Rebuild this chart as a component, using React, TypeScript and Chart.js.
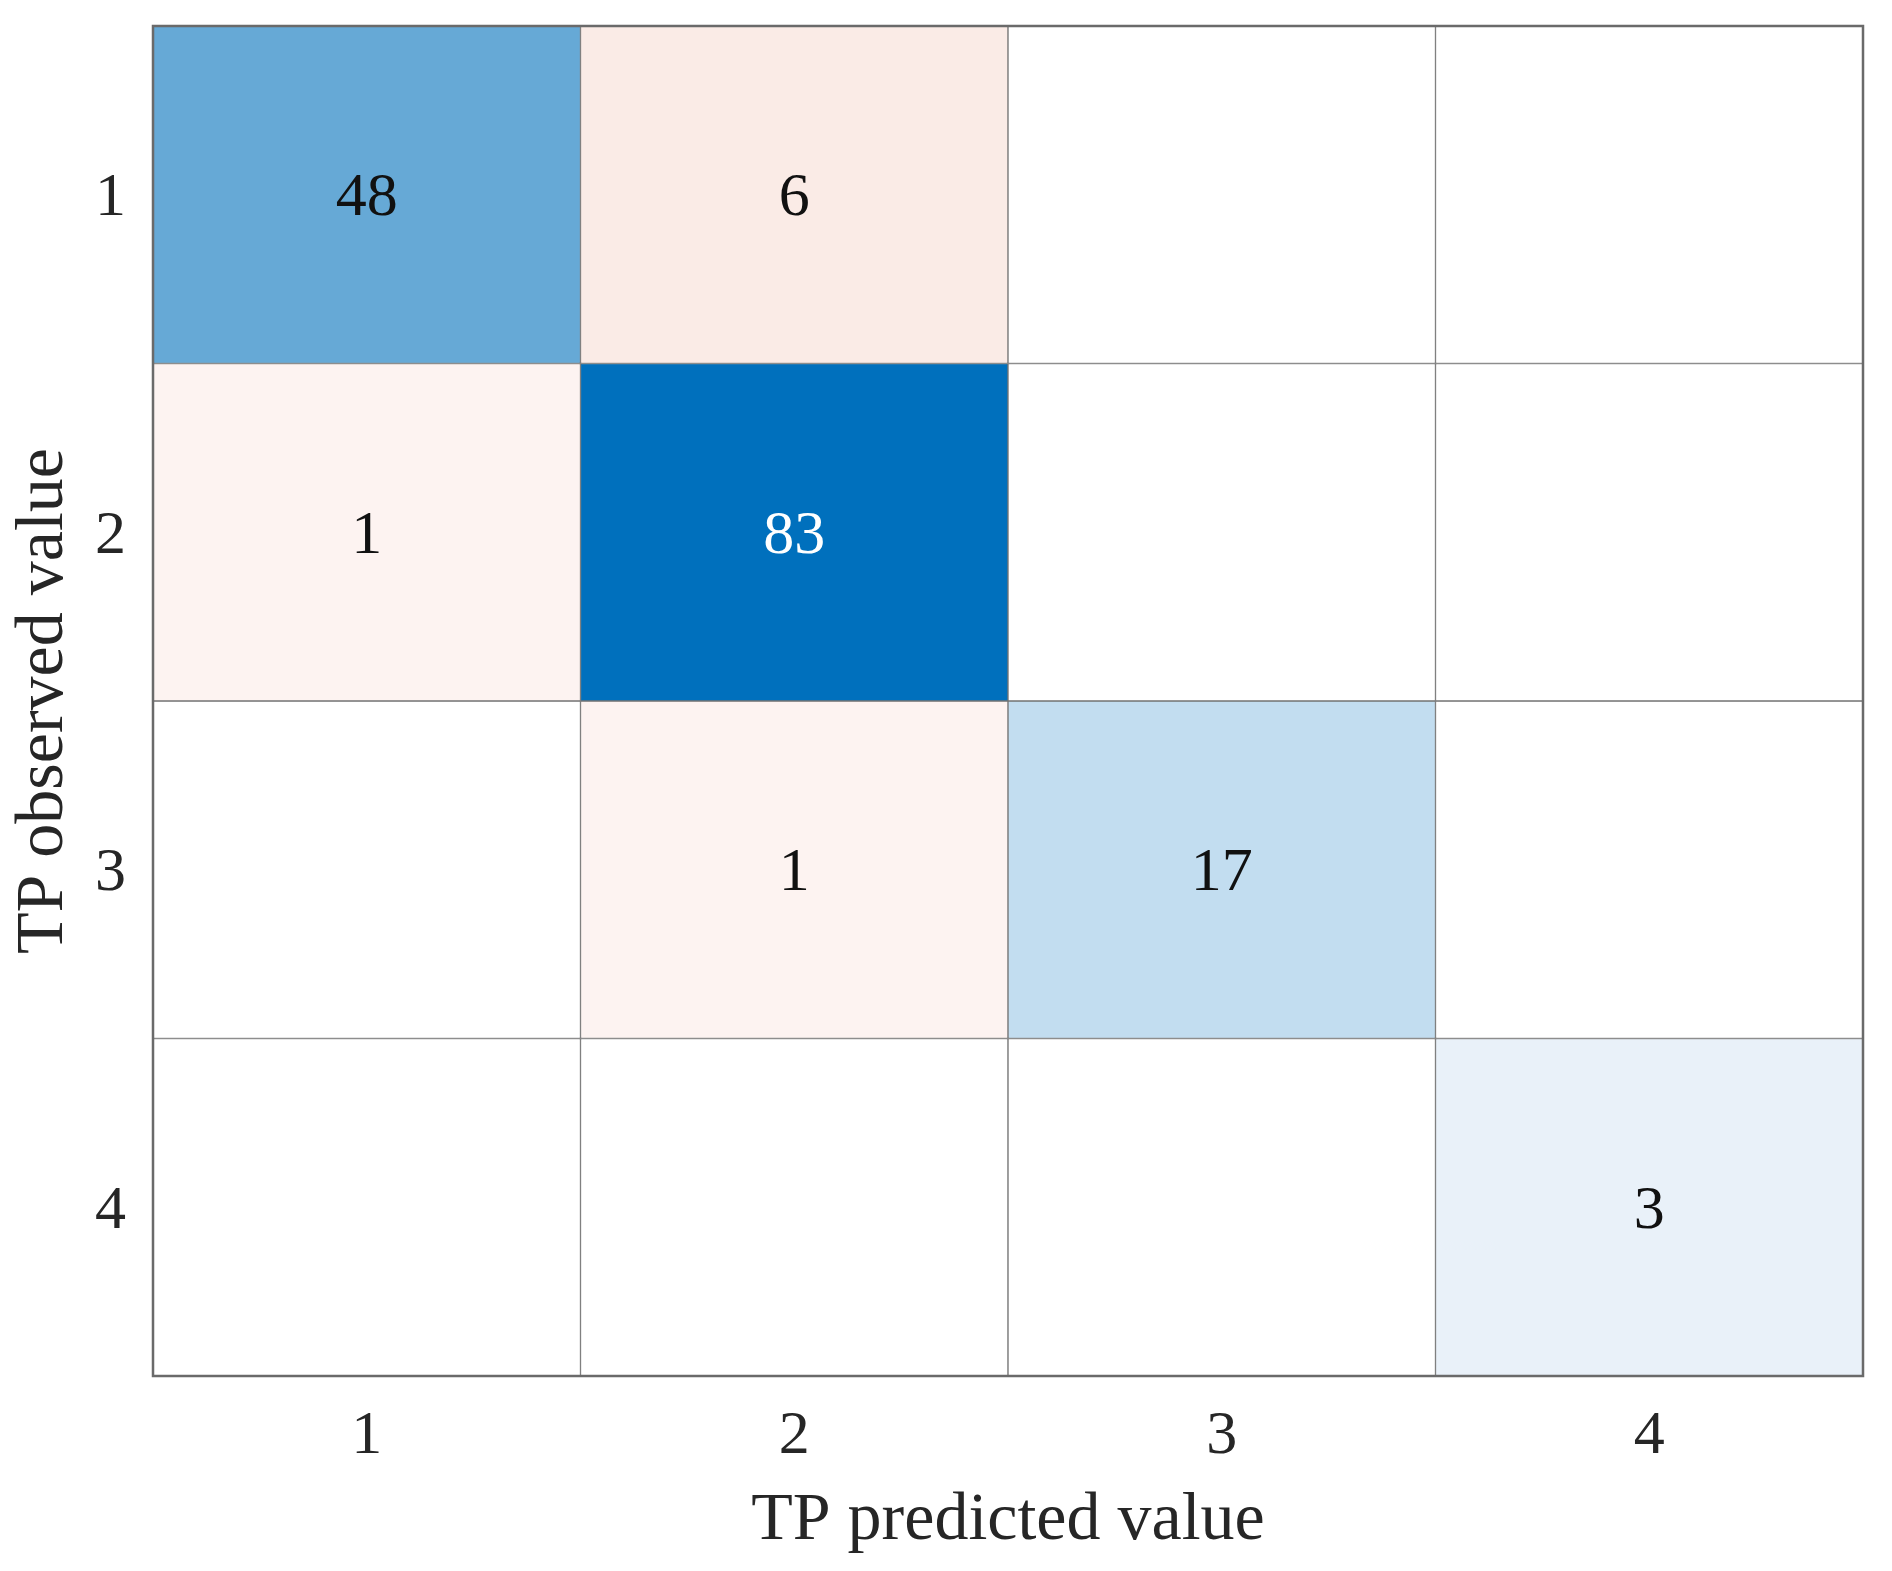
import React, { useEffect, useRef } from "react";
import { Chart, registerables } from "chart.js";

Chart.register(...registerables);

// Confusion matrix: rows = observed class, columns = predicted class
const predictedLabels = ["1", "2", "3", "4"];
const observedLabels = ["1", "2", "3", "4"];
const row1 = [48, 6, 0, 0];
const row2 = [1, 83, 0, 0];
const row3 = [0, 1, 17, 0];
const row4 = [0, 0, 0, 3];
const matrix = [row1, row2, row3, row4];

// Cell fill colours (style), same layout as the matrix
const cellColors = [
  ["#66a9d6", "#faebe6", "#ffffff", "#ffffff"],
  ["#fdf3f1", "#0070bd", "#ffffff", "#ffffff"],
  ["#ffffff", "#fdf3f1", "#c2ddf0", "#ffffff"],
  ["#ffffff", "#ffffff", "#ffffff", "#e9f1f9"],
];
const cellTextColors = [
  ["#111111", "#111111", "#111111", "#111111"],
  ["#111111", "#ffffff", "#111111", "#111111"],
  ["#111111", "#111111", "#111111", "#111111"],
  ["#111111", "#111111", "#111111", "#111111"],
];

const FONT = "'Liberation Serif', 'Times New Roman', serif";
const TEXT = "#262626";

export default function App() {
  const ref = useRef<HTMLCanvasElement | null>(null);

  useEffect(() => {
    if (!ref.current) return;

    const datasets = matrix.map((row, r) => ({
      label: "Observed " + observedLabels[r],
      data: row.map(() => [r + 0.5, r + 1.5] as [number, number]),
      counts: row,
      backgroundColor: cellColors[r],
      borderColor: "#737373",
      borderWidth: 1,
      borderSkipped: false as const,
      categoryPercentage: 1,
      barPercentage: 1,
      grouped: false,
    }));

    const cellText = {
      id: "cellText",
      afterDatasetsDraw(chart: any) {
        const ctx = chart.ctx;
        ctx.save();
        ctx.font = `62px ${FONT}`;
        ctx.textAlign = "center";
        ctx.textBaseline = "middle";
        chart.data.datasets.forEach((ds: any, r: number) => {
          const meta = chart.getDatasetMeta(r);
          meta.data.forEach((el: any, c: number) => {
            const v = ds.counts[c];
            if (!v) return;
            ctx.fillStyle = cellTextColors[r][c];
            ctx.fillText(String(v), el.x, (el.y + el.base) / 2 + 4);
          });
        });
        ctx.restore();
      },
    };

    const frame = {
      id: "frame",
      afterDraw(chart: any) {
        const { ctx, chartArea: a } = chart;
        ctx.save();
        ctx.strokeStyle = "#6a6a6a";
        ctx.lineWidth = 2.5;
        ctx.strokeRect(a.left, a.top, a.right - a.left, a.bottom - a.top);
        ctx.restore();
      },
    };

    const chart = new Chart(ref.current, {
      type: "bar",
      data: { labels: predictedLabels, datasets: datasets as any },
      plugins: [cellText, frame],
      options: {
        responsive: false,
        animation: false,
        devicePixelRatio: 1,
        layout: { padding: { top: 26, right: 29, left: 0, bottom: 0 } },
        plugins: { legend: { display: false }, tooltip: { enabled: false } },
        scales: {
          x: {
            type: "category",
            offset: true,
            grid: { display: false, drawTicks: false },
            border: { display: false },
            ticks: {
              color: TEXT,
              font: { family: FONT, size: 62 },
              padding: 24,
              maxRotation: 0,
            },
            title: {
              display: true,
              text: "TP predicted value",
              color: TEXT,
              font: { family: FONT, size: 68 },
              padding: { top: 0, bottom: 9 },
            },
            afterFit(scale: any) {
              scale.height = 195;
              scale.paddingLeft = 0;
              scale.paddingRight = 0;
            },
          },
          y: {
            type: "linear",
            min: 0.5,
            max: 4.5,
            reverse: true,
            grid: { display: false, drawTicks: false },
            border: { display: false },
            afterBuildTicks(scale: any) {
              scale.ticks = observedLabels.map((_, i) => ({ value: i + 1 }));
            },
            ticks: {
              color: TEXT,
              font: { family: FONT, size: 62 },
              padding: 27,
              labelOffset: 4,
              callback: (v: any) => observedLabels[Number(v) - 1] ?? "",
            },
            title: {
              display: true,
              text: "TP observed value",
              color: TEXT,
              font: { family: FONT, size: 68 },
              padding: { top: 3, bottom: 0 },
            },
            afterFit(scale: any) {
              scale.width = 153;
              scale.paddingTop = 0;
              scale.paddingBottom = 0;
            },
          },
        },
      },
    });

    return () => chart.destroy();
  }, []);

  return (
    <div style={{ position: "absolute", left: 0, top: 0, width: 1892, height: 1571, background: "#ffffff" }}>
      <canvas ref={ref} width={1892} height={1571} />
    </div>
  );
}
